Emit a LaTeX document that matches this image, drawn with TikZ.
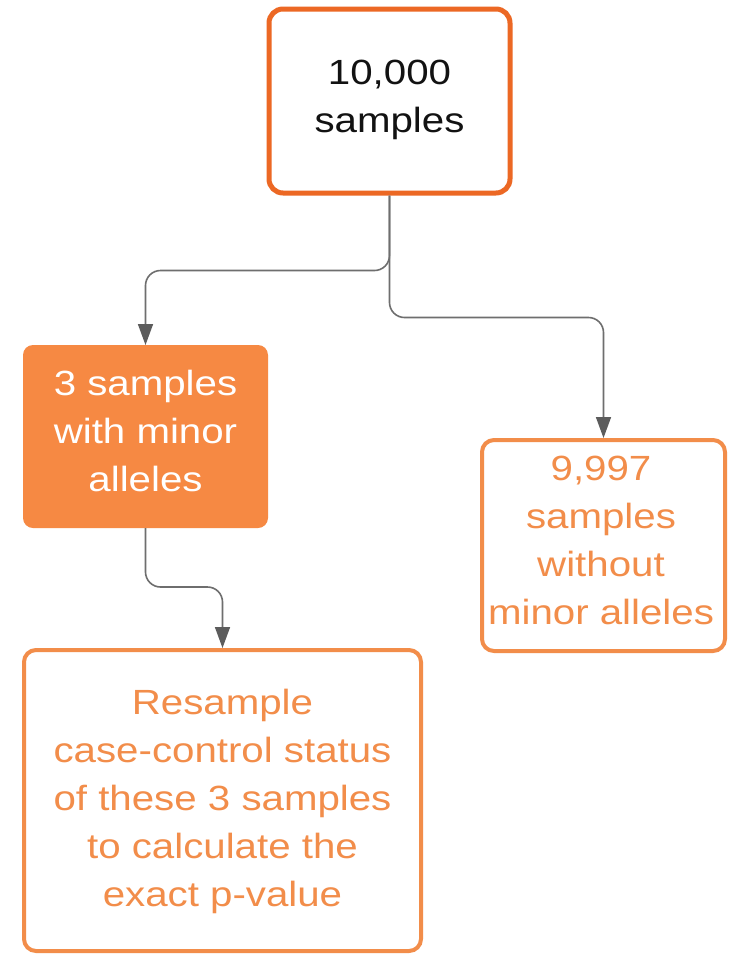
\documentclass[tikz,border=0pt]{standalone}
\usepackage{fontspec}
\setmainfont[FakeStretch=1.15]{Liberation Sans}
\usetikzlibrary{arrows.meta}
\definecolor{topor}{HTML}{EC6824}
\definecolor{fillor}{HTML}{F68943}
\definecolor{lightor}{HTML}{F28D4A}
\definecolor{conngray}{HTML}{6E6E6E}
\definecolor{headgray}{HTML}{5C5C5C}
\tikzset{
  boxbase/.style={rectangle, inner sep=0pt},
  txt/.style={inner sep=0pt, align=center, font=\fontsize{35}{48}\selectfont},
  conn/.style={draw=conngray, line width=1.6pt, rounded corners=15pt,
    -{Triangle[length=21pt,width=15pt,fill=headgray,color=headgray]}},
}
\begin{document}
\begin{tikzpicture}[x=1pt,y=-1pt]
\useasboundingbox[fill=white] (0,0) rectangle (730,954);
% boxes
\node[boxbase, draw=topor, line width=5pt, rounded corners=14pt, fill=white,
  minimum width=241pt, minimum height=184pt] (top) at (389.5,101) {};
\node[boxbase, fill=fillor, rounded corners=10pt, outer sep=0pt,
  minimum width=245pt, minimum height=183pt] (left) at (145.5,436.5) {};
\node[boxbase, draw=lightor, line width=4pt, rounded corners=12pt, fill=white,
  minimum width=243pt, minimum height=211pt] (right) at (603.5,545.5) {};
\node[boxbase, draw=lightor, line width=4pt, rounded corners=12pt, fill=white,
  minimum width=397pt, minimum height=301pt] (bottom) at (222.5,800.5) {};
% texts
\node[txt, text=black!93] (toptext) at (389.5,100.2) {10,000\\samples};
\node[txt, text=white] (lefttext) at (145.5,430.7) {3 samples\\with minor\\alleles};
\node[txt, text=lightor] (righttext) at (601,540) {9,997\\samples\\without\\minor alleles};
\node[txt, text=lightor] (bottomtext) at (222.5,801.2) {Resample\\case-control status\\of these 3 samples\\to calculate the\\exact p-value};
% connectors
\draw[conn] (top.south) -- ++(0,75) -| (left.north);
\draw[conn] (top.south) -- ++(0,122) -| (right.north);
\draw[conn] (left.south) -- ++(0,59) -| (bottom.north);
\end{tikzpicture}
\end{document}
